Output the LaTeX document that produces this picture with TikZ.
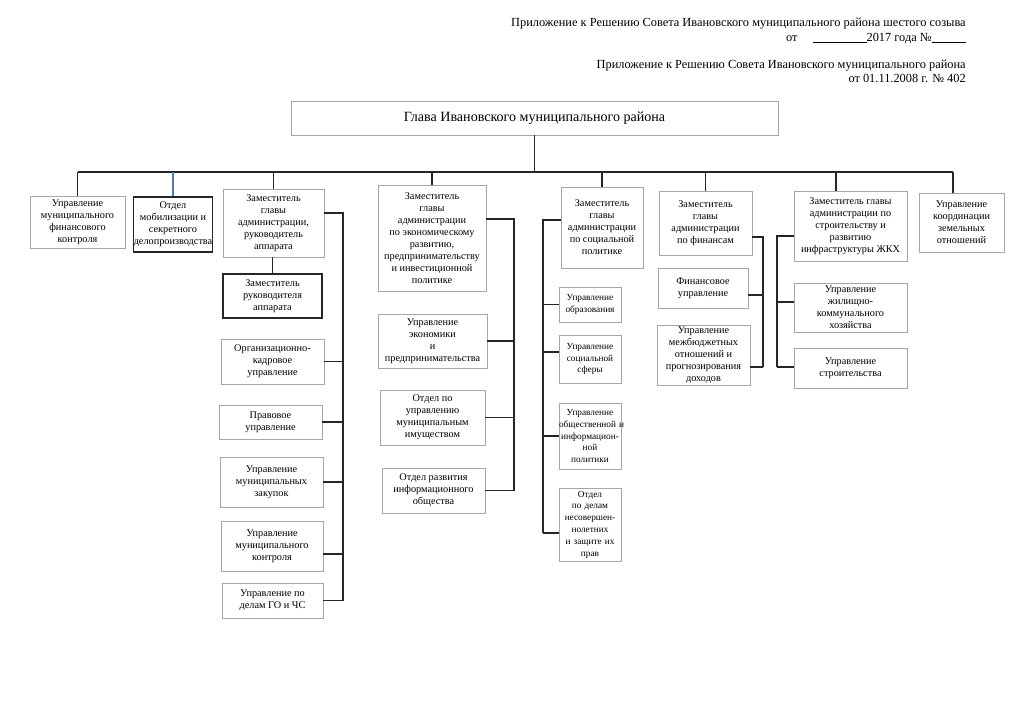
\documentclass[tikz,border=0pt]{standalone}
\usepackage{fontspec}
\setmainfont{Liberation Serif}
\usepackage{tikz}
\definecolor{boxgray}{HTML}{A6A6A6}
\definecolor{linkblue}{HTML}{4F7AA8}

\begin{document}
\begin{tikzpicture}[x=0.025cm,y=-0.025cm,
  unit/.style 2 args={minimum width=#1*0.025cm,minimum height=#2*0.025cm},
  orgbox/.style={draw=boxgray,line width=0.6pt,align=center,inner xsep=0pt,inner ysep=1pt,
    font=\fontsize{7.3}{8.5}\selectfont},
  orgboxdark/.style={orgbox,draw=black!85,line width=1pt},
  smallbox/.style={orgbox,text width=62*0.025cm,font=\fontsize{6.6}{8.4}\selectfont},
  link/.style={draw=black!85,line width=0.9pt},
  hdr/.style={anchor=base east,inner sep=0pt,font=\fontsize{8.8}{10}\selectfont}]
  \useasboundingbox (0,0) rectangle (1024,724);
  \node[hdr] (hdrA) at (966,26) {Приложение к Решению Совета Ивановского муниципального района шестого созыва};
  \node[hdr] (hdrB) at (966,41) {от\hspace{0.375cm}\rule[-1pt]{1.35cm}{0.4pt}2017 года №\rule[-1pt]{0.85cm}{0.4pt}};
  \node[hdr] (hdrC) at (966,68) {Приложение к Решению Совета Ивановского муниципального района};
  \node[hdr] (hdrD) at (966,82) {от 01.11.2008 г. № 402};
  \node[orgbox,unit={487}{34},font=\fontsize{10}{12}\selectfont] (glava) at (534.5,118) {Глава Ивановского муниципального района};

  \node[orgbox,unit={95}{52}] (b1) at (77.5,222) {Управление\\муниципального\\финансового\\контроля};
  \node[orgboxdark,unit={78}{55}] (b2) at (173,224.5) {Отдел\\мобилизации и\\секретного\\делопроизводства};
  \node[orgbox,unit={101}{68}] (zamapp) at (273.5,223) {Заместитель\\главы\\администрации,\\руководитель\\аппарата};
  \node[orgboxdark,unit={99}{44}] (zamruk) at (272.5,296) {Заместитель\\руководителя\\аппарата};
  \node[orgbox,unit={103}{45}] (orgkadr) at (272.5,361.5) {Организационно-\\кадровое\\управление};
  \node[orgbox,unit={103}{34}] (pravo) at (270.5,422) {Правовое\\управление};
  \node[orgbox,unit={103}{50}] (zakup) at (271.5,482) {Управление\\муниципальных\\закупок};
  \node[orgbox,unit={102}{50}] (munkontr) at (272,546) {Управление\\муниципального\\контроля};
  \node[orgbox,unit={101}{35}] (goches) at (272.5,600.5) {Управление по\\делам ГО и ЧС};

  \node[orgbox,unit={108}{106}] (zamecon) at (432,238) {Заместитель\\главы\\администрации\\по экономическому\\развитию,\\предпринимательству\\и инвестиционной\\политике};
  \node[orgbox,unit={109}{54}] (ekon) at (432.5,341) {Управление\\экономики\\и\\предпринимательства};
  \node[orgbox,unit={105}{55}] (imush) at (432.5,417.5) {Отдел по\\управлению\\муниципальным\\имуществом};
  \node[orgbox,unit={103}{45}] (inform) at (433.5,490.5) {Отдел развития\\информационного\\общества};

  \node[orgbox,unit={82}{81}] (zamsoc) at (602,227.5) {Заместитель\\главы\\администрации\\по социальной\\политике};
  \node[smallbox,unit={62}{35}] (obraz) at (590,304.5) {Управление\\образования};
  \node[smallbox,unit={62}{48}] (socsf) at (590,359) {Управление\\социальной\\сферы};
  \node[smallbox,unit={62}{66}] (obshch) at (590,436) {Управление\\\mbox{общественной и}\\\mbox{информацион-}\\ной\\политики};
  \node[smallbox,unit={62}{73}] (nesov) at (590,524.5) {Отдел\\по делам\\\mbox{несовершен-}\\нолетних\\\mbox{и защите их}\\прав};

  \node[orgbox,unit={93}{64}] (zamfin) at (705.5,223) {Заместитель\\главы\\администрации\\по финансам};
  \node[orgbox,unit={90}{40}] (finupr) at (703,288) {Финансовое\\управление};
  \node[orgbox,unit={93}{60}] (mezhb) at (703.5,355) {Управление\\межбюджетных\\отношений и\\прогнозирования\\доходов};

  \node[orgbox,unit={113}{70}] (zamstroi) at (850.5,226) {Заместитель главы\\администрации по\\строительству и\\развитию\\инфраструктуры ЖКХ};
  \node[orgbox,unit={113}{49}] (zhkh) at (850.5,307.5) {Управление\\жилищно-\\коммунального\\хозяйства};
  \node[orgbox,unit={113}{40}] (stroi) at (850.5,368) {Управление\\строительства};

  \node[orgbox,unit={85}{59}] (koord) at (961.5,222.5) {Управление\\координации\\земельных\\отношений};

  \coordinate (bus) at (535,172);
  \coordinate (dStroi) at ([xshift=-0.36cm]zamstroi.north);
  \coordinate (dKoord) at ([xshift=-0.21cm]koord.north);
  \draw[link] (glava.south) -- (glava.south |- bus);
  \draw[link] (b1.north |- bus) -- (dKoord |- bus);
  \foreach \n in {b1,zamapp,zamecon,zamsoc,zamfin}
    \draw[link] (\n.north) -- (\n.north |- bus);
  \draw[link,draw=linkblue] (b2.north) -- (b2.north |- bus);
  \draw[link] (dStroi) -- (dStroi |- bus);
  \draw[link] (dKoord) -- (dKoord |- bus);

  \coordinate (c3) at (343,213);
  \coordinate (j3) at (343,554);
  \draw[link] (zamruk.north |- zamapp.south) -- (zamruk.north);
  \draw[link] (zamapp.east |- c3) -- (c3) -- (c3 |- goches.east);
  \foreach \n in {orgkadr,pravo,zakup,goches}
    \draw[link] (\n.east) -- (\n.east -| c3);
  \draw[link] (munkontr.east |- j3) -- (j3);

  \coordinate (c4) at (514,219);
  \draw[link] (zamecon.east |- c4) -- (c4) -- (c4 |- inform.east);
  \foreach \n in {ekon,imush,inform}
    \draw[link] (\n.east) -- (\n.east -| c4);

  \coordinate (c5) at (543,220);
  \coordinate (j5a) at (543,352);
  \coordinate (j5b) at (543,533);
  \draw[link] (zamsoc.west |- c5) -- (c5) -- (j5b);
  \foreach \n in {obraz,obshch}
    \draw[link] (\n.west) -- (\n.west -| c5);
  \draw[link] (socsf.west |- j5a) -- (j5a);
  \draw[link] (nesov.west |- j5b) -- (j5b);

  \coordinate (c6) at (763,237);
  \coordinate (j6a) at (763,295);
  \coordinate (j6b) at (763,367);
  \draw[link] (zamfin.east |- c6) -- (c6) -- (j6b);
  \draw[link] (finupr.east |- j6a) -- (j6a);
  \draw[link] (mezhb.east |- j6b) -- (j6b);

  \coordinate (c7) at (777,236);
  \coordinate (j7a) at (777,302);
  \coordinate (j7b) at (777,367);
  \draw[link] (zamstroi.west |- c7) -- (c7) -- (j7b);
  \draw[link] (zhkh.west |- j7a) -- (j7a);
  \draw[link] (stroi.west |- j7b) -- (j7b);
\end{tikzpicture}
\end{document}
